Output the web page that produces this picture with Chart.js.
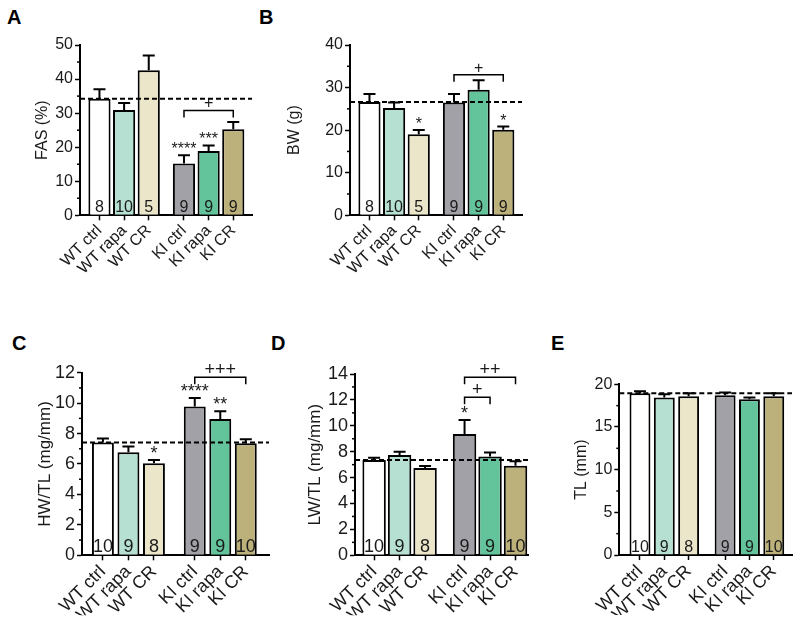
<!DOCTYPE html>
<html>
<head>
<meta charset="utf-8">
<script src="https://cdn.jsdelivr.net/npm/chart.js@4.4.0/dist/chart.umd.min.js"></script>
<style>
  body { margin: 0; background: #fff; }
  #fig { position: relative; width: 800px; height: 624px; overflow: hidden; }
  #fig canvas { position: absolute; }
  .tag { position: absolute; font: bold 20px 'Liberation Sans', Arial, sans-serif; line-height: 20px; color: #000; }
</style>
</head>
<body>
<div id="fig">
  <div class="tag" style="left:7px;top:7px">A</div>
  <div class="tag" style="left:259px;top:7px">B</div>
  <div class="tag" style="left:12px;top:333px">C</div>
  <div class="tag" style="left:271px;top:333px">D</div>
  <div class="tag" style="left:551px;top:333px">E</div>
</div>
<script>
// ===== DATA =====
const groups = ['WT ctrl', 'WT rapa', 'WT CR', 'KI ctrl', 'KI rapa', 'KI CR'];

// A - FAS (%)
const fasMean = [34.2, 30.9, 42.6, 15.2, 18.9, 25.3];
const fasSem = [2.8, 2.1, 4.3, 2.4, 1.6, 2.1];
const fasN = [8, 10, 5, 9, 9, 9];
const fasStars = ['', '', '', '****', '***', ''];
const fasBrackets = [{ from: 3, to: 5, y: 30.8, label: '+' }];
const fasTicks = [0, 10, 20, 30, 40, 50];

// B - BW (g)
const bwMean = [26.6, 25.2, 19.05, 26.5, 29.5, 20.1];
const bwSem = [1.9, 1.3, 1.0, 2.0, 2.2, 0.75];
const bwN = [8, 10, 5, 9, 9, 9];
const bwStars = ['', '', '*', '', '', '*'];
const bwBrackets = [{ from: 3, to: 5, y: 33, label: '+' }];
const bwTicks = [0, 10, 20, 30, 40];

// C - HW/TL (mg/mm)
const hwMean = [7.41, 6.78, 6.05, 9.78, 8.95, 7.37];
const hwSem = [0.27, 0.37, 0.22, 0.55, 0.52, 0.26];
const hwN = [10, 9, 8, 9, 9, 10];
const hwStars = ['', '', '*', '****', '**', ''];
const hwBrackets = [{ from: 3, to: 5, y: 11.7, label: '+++' }];
const hwTicks = [0, 2, 4, 6, 8, 10, 12];

// D - LW/TL (mg/mm)
const lwMean = [7.36, 7.75, 6.74, 9.37, 7.62, 6.92];
const lwSem = [0.18, 0.25, 0.16, 1.08, 0.31, 0.34];
const lwN = [10, 9, 8, 9, 9, 10];
const lwStars = ['', '', '', '*', '', ''];
const lwBrackets = [
  { from: 3, to: 5, y: 13.75, label: '++' },
  { from: 3, to: 4, y: 12.2, label: '+' }
];
const lwTicks = [0, 2, 4, 6, 8, 10, 12, 14];

// E - TL (mm)
const tlMean = [18.95, 18.45, 18.6, 18.72, 18.25, 18.6];
const tlSem = [0.25, 0.39, 0.35, 0.31, 0.2, 0.35];
const tlN = [10, 9, 8, 9, 9, 10];
const tlStars = ['', '', '', '', '', ''];
const tlBrackets = [];
const tlTicks = [0, 5, 10, 15, 20];

// ===== STYLE =====
const barColors = ['#ffffff', '#b6e0d1', '#ebe6c9', '#a2a1a7', '#63c49b', '#bdb17b'];
const FONT = "'Liberation Sans', Arial, Helvetica, sans-serif";
Chart.defaults.font.family = FONT;
Chart.defaults.color = '#1a1a1a';
Chart.defaults.animation = false;

// ===== PANELS =====
const panels = [
  { id: 'A', title: 'FAS (%)', mean: fasMean, sem: fasSem, n: fasN, stars: fasStars, brackets: fasBrackets, ticks: fasTicks, minor: 5,
    box: { x: 0, y: 0, w: 264, h: 300 }, axis: { left: 80, top: 45, right: 252, bottom: 215.3 }, titleX: 43,
    gap: 3.43, xMin: -0.79, xMax: 6.19, barPct: 0.9, font: 16, xFont: 16, titleFont: 16 },
  { id: 'B', title: 'BW (g)', mean: bwMean, sem: bwSem, n: bwN, stars: bwStars, brackets: bwBrackets, ticks: bwTicks, minor: 5,
    box: { x: 264, y: 0, w: 272, h: 300 }, axis: { left: 350, top: 45, right: 522, bottom: 215.3 }, titleX: 295,
    gap: 3.43, xMin: -0.79, xMax: 6.19, barPct: 0.9, font: 16, xFont: 16, titleFont: 16 },
  { id: 'C', title: 'HW/TL (mg/mm)', mean: hwMean, sem: hwSem, n: hwN, stars: hwStars, brackets: hwBrackets, ticks: hwTicks, minor: 1,
    box: { x: 0, y: 300, w: 276, h: 324 }, axis: { left: 82, top: 372.7, right: 269, bottom: 555.3 }, titleX: 45,
    gap: 3.6, xMin: -0.82, xMax: 6.51, barPct: 0.86, font: 18, xFont: 18, titleFont: 17 },
  { id: 'D', title: 'LW/TL (mg/mm)', mean: lwMean, sem: lwSem, n: lwN, stars: lwStars, brackets: lwBrackets, ticks: lwTicks, minor: 1,
    box: { x: 276, y: 300, w: 258, h: 324 }, axis: { left: 355, top: 374, right: 528, bottom: 555.3 }, titleX: 315,
    gap: 3.55, xMin: -0.75, xMax: 6.04, barPct: 0.92, font: 18, xFont: 18, titleFont: 17 },
  { id: 'E', title: 'TL (mm)', mean: tlMean, sem: tlSem, n: tlN, stars: tlStars, brackets: tlBrackets, ticks: tlTicks, minor: 2.5,
    box: { x: 534, y: 300, w: 266, h: 324 }, axis: { left: 619.3, top: 384.3, right: 792, bottom: 555 }, titleX: 581.7,
    gap: 3.5, xMin: -0.85, xMax: 6.25, barPct: 0.86, font: 16, xFont: 18, titleFont: 16 }
];

// error bars, n labels, stars, brackets, dashed control line, minor ticks
function decor(p, pos) {
  return {
    id: 'decor' + p.id,
    afterDatasetsDraw(chart) {
      const { ctx, chartArea: ca, scales: { x, y } } = chart;
      ctx.save();
      ctx.strokeStyle = '#000';
      ctx.fillStyle = '#1a1a1a';

      // minor ticks
      ctx.lineWidth = 1.5;
      const major = p.ticks[1] - p.ticks[0];
      const top = p.ticks[p.ticks.length - 1];
      for (let k = 1; k * p.minor < top; k++) {
        const v = k * p.minor;
        if (Math.abs(v / major - Math.round(v / major)) < 1e-6) continue;
        const py = y.getPixelForValue(v);
        ctx.beginPath();
        ctx.moveTo(ca.left, py);
        ctx.lineTo(ca.left - 3, py);
        ctx.stroke();
      }

      ctx.font = p.font + 'px ' + FONT;
      ctx.textAlign = 'center';
      ctx.textBaseline = 'alphabetic';
      const zero = y.getPixelForValue(0);
      pos.forEach((xv, i) => {
        const cx = x.getPixelForValue(xv);
        const yMean = y.getPixelForValue(p.mean[i]);
        const yTop = y.getPixelForValue(p.mean[i] + p.sem[i]);
        ctx.lineWidth = 2;
        ctx.beginPath();
        ctx.moveTo(cx, yMean);
        ctx.lineTo(cx, yTop);
        ctx.moveTo(cx - 6, yTop);
        ctx.lineTo(cx + 6, yTop);
        ctx.stroke();
        ctx.fillText(String(p.n[i]), cx, zero - 3);
        if (p.stars[i]) ctx.fillText(p.stars[i], cx, yTop - 1);
      });

      // significance brackets
      ctx.lineWidth = 1.5;
      p.brackets.forEach(br => {
        const x1 = x.getPixelForValue(pos[br.from]);
        const x2 = x.getPixelForValue(pos[br.to]);
        const yb = y.getPixelForValue(br.y);
        ctx.beginPath();
        ctx.moveTo(x1, yb + 7);
        ctx.lineTo(x1, yb);
        ctx.lineTo(x2, yb);
        ctx.lineTo(x2, yb + 7);
        ctx.stroke();
        ctx.fillText(br.label, (x1 + x2) / 2, yb - 2);
      });

      // dashed line at WT ctrl level
      const yc = y.getPixelForValue(p.mean[0]);
      ctx.lineWidth = 2;
      ctx.setLineDash([5, 3]);
      ctx.beginPath();
      ctx.moveTo(ca.left, yc);
      ctx.lineTo(ca.right, yc);
      ctx.stroke();
      ctx.restore();
    }
  };
}

function buildPanel(p) {
  const pos = [0, 1, 2, p.gap, p.gap + 1, p.gap + 2];
  const b = p.box, a = p.axis;
  const xAxisH = 60;
  const titleLeft = p.titleX - p.titleFont / 2;
  const yAxisW = a.left - titleLeft;
  const canvas = document.createElement('canvas');
  canvas.width = b.w;
  canvas.height = b.h;
  canvas.style.left = b.x + 'px';
  canvas.style.top = b.y + 'px';
  document.getElementById('fig').appendChild(canvas);

  const axisLine = { color: '#000', width: 2 };
  const tickGrid = { drawOnChartArea: false, offset: false, tickLength: 5, tickColor: '#000', tickWidth: 1.5 };

  new Chart(canvas, {
    type: 'bar',
    data: {
      datasets: [{
        data: p.mean.map((m, i) => ({ x: pos[i], y: m })),
        backgroundColor: barColors,
        borderColor: '#000',
        borderWidth: 2,
        barPercentage: p.barPct,
        categoryPercentage: 1
      }]
    },
    options: {
      responsive: false,
      layout: {
        padding: {
          left: titleLeft - b.x,
          top: a.top - b.y,
          right: b.x + b.w - a.right,
          bottom: b.y + b.h - a.bottom - xAxisH
        }
      },
      plugins: { legend: { display: false }, tooltip: { enabled: false } },
      scales: {
        x: {
          type: 'linear',
          offset: false,
          min: p.xMin,
          max: p.xMax,
          afterBuildTicks: s => { s.ticks = pos.map(v => ({ value: v })); },
          afterFit: s => { s.height = xAxisH; s.paddingLeft = 0; s.paddingRight = 0; },
          ticks: {
            autoSkip: false,
            minRotation: 45,
            maxRotation: 45,
            padding: 1,
            font: { size: p.xFont },
            callback: (v, i) => groups[i]
          },
          grid: tickGrid,
          border: axisLine
        },
        y: {
          min: p.ticks[0],
          max: p.ticks[p.ticks.length - 1],
          afterBuildTicks: s => { s.ticks = p.ticks.map(v => ({ value: v })); },
          afterFit: s => { s.width = yAxisW; s.paddingTop = 0; s.paddingBottom = 0; },
          ticks: { padding: 2, font: { size: p.font } },
          grid: tickGrid,
          border: axisLine,
          title: {
            display: true,
            text: p.title,
            padding: 0,
            font: { size: p.titleFont, lineHeight: 1 }
          }
        }
      }
    },
    plugins: [decor(p, pos)]
  });
}

panels.forEach(buildPanel);
</script>
</body>
</html>
